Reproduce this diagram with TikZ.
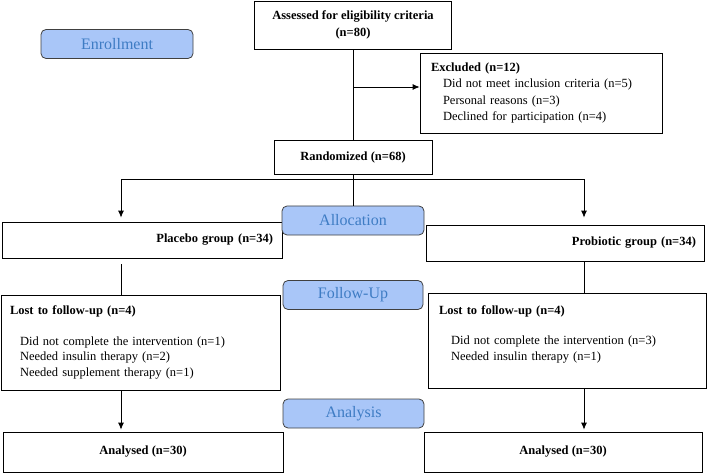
\documentclass[tikz,border=0pt]{standalone}
\usepackage{fontspec}
\setmainfont{Liberation Serif}
\usetikzlibrary{arrows, arrows.meta}
\usetikzlibrary{calc}

\definecolor{stagefill}{RGB}{169,198,248}
\definecolor{stagetext}{RGB}{62,124,196}
\definecolor{stagedraw}{RGB}{64,64,64}

\tikzset{
  box/.style={draw, line width=0.8pt, inner sep=0pt, font=\fontsize{12.5}{15.5}\selectfont},
  stage/.style={draw=stagedraw, line width=0.8pt, fill=stagefill, text=stagetext, rounded corners=5pt, inner sep=0pt, minimum height=29pt, font=\fontsize{16}{19}\selectfont},
  flow/.style={line width=0.8pt},
  arrow/.style={flow, -{Latex[length=7pt, width=6pt]}}
}

\begin{document}
\begin{tikzpicture}[x=1pt, y=-1pt]
  \useasboundingbox (0,0) rectangle (709,473);

  % enrollment
  \node[box, minimum width=197pt, minimum height=48pt, align=center] (assess) at (353,25) {\textbf{Assessed for eligibility criteria}\\[1.5pt]\textbf{(n=80)}};
  \node[box, text width=220pt, inner xsep=11pt, minimum height=80pt, align=left] (excl) at (541,93) {\textbf{Excluded (n=12)}\\[1pt]\hspace*{12pt}Did not meet inclusion criteria (n=5)\\[1pt]\hspace*{12pt}Personal reasons (n=3)\\[1pt]\hspace*{12pt}Declined for participation (n=4)};
  \node[box, minimum width=158pt, minimum height=34pt] (rand) at (353,157) {\textbf{Randomized (n=68)}};

  % allocation
  \node[box, text width=262pt, inner xsep=9pt, minimum height=36pt, align=right] (placebo) at (142,240) {\textbf{Placebo group (n=34)}};
  \node[box, text width=262pt, inner xsep=8pt, minimum height=36pt, align=right] (probio) at (565,243) {\textbf{Probiotic group (n=34)}};

  % follow-up
  \node[box, text width=261pt, inner xsep=9pt, minimum height=95pt, align=left] (lostL) at (140.5,342.5) {\textbf{Lost to follow-up (n=4)}\\[15pt]\hspace*{10pt}Did not complete the intervention (n=1)\\\hspace*{10pt}Needed insulin therapy (n=2)\\\hspace*{10pt}Needed supplement therapy (n=1)};
  \node[box, text width=256pt, inner xsep=11pt, minimum height=95pt, align=left] (lostR) at (567,340.5) {\textbf{Lost to follow-up (n=4)}\\[15pt]\hspace*{12pt}Did not complete the intervention (n=3)\\\hspace*{12pt}Needed insulin therapy (n=1)\\\mbox{}};

  % analysis
  \node[box, minimum width=280pt, minimum height=40pt] (anaL) at (143,452) {\textbf{Analysed (n=30)}};
  \node[box, minimum width=278pt, minimum height=40pt] (anaR) at (563,452) {\textbf{Analysed (n=30)}};

  \coordinate (exclin) at (353,87);
  \coordinate (split) at (353,179);
  \coordinate (colL) at (121,179);
  \coordinate (colR) at (584,179);

  % stage labels
  \node[stage, minimum width=152pt] (enroll) at (117,44) {Enrollment};
  \node[stage, minimum width=142pt] (alloc) at (353,220.5) {Allocation};
  \node[stage, minimum width=140pt] (follow) at (353,295) {Follow-Up};
  \node[stage, minimum width=141pt] (analysis) at (353.5,413.5) {Analysis};

  \draw[flow] (assess.south) -- (rand.north);
  \draw[arrow] (exclin) -- (exclin -| excl.west);
  \draw[flow] (rand.south) -- (alloc.north);
  \draw[arrow, shorten >=4pt] (split) -| (colL |- placebo.north);
  \draw[arrow, shorten >=7pt] (split) -| (colR |- probio.north);
  \draw[flow, shorten <=6pt] (colL |- placebo.south) -- (colL |- lostL.north);
  \draw[flow] (colR |- probio.south) -- (colR |- lostR.north);
  \draw[arrow, shorten >=2pt] (colL |- lostL.south) -- (colL |- anaL.north);
  \draw[arrow, shorten >=2pt] (colR |- lostR.south) -- (colR |- anaR.north);
\end{tikzpicture}
\end{document}
